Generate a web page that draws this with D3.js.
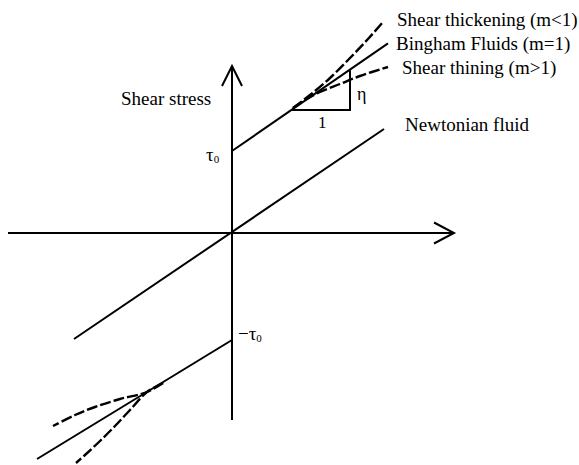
<!DOCTYPE html>
<html>
<head>
<meta charset="utf-8">
<script src="https://cdn.jsdelivr.net/npm/d3@7"></script>
<style>
  html, body { margin: 0; padding: 0; background: #fff; }
  svg { display: block; }
  text { font-family: "Liberation Serif", "Times New Roman", serif; fill: #000; }
</style>
</head>
<body>
<script>
// ---- Data (shear rate, shear stress) in schematic units ----
const xExtent = [-5.6, 5.55];          // shear-rate axis extent
const yExtent = [-4.675, 4.175];       // shear-stress axis extent
const tau0 = 2.05;                     // upper yield stress intercept
const negTau0 = -2.675;                // lower yield stress intercept

const binghamUpper = [[0, tau0], [3.9, 4.74]];
const binghamLower = [[0, negTau0], [-4.875, -5.65]];
const newtonian = [[-3.95, -2.65], [3.8, 2.6]];

const thickeningUpper = [[1.525, 3.125], [1.95, 3.45], [2.45, 3.875], [2.95, 4.375], [3.4, 4.85], [3.775, 5.275]];
const thinningUpper = [[1.525, 3.125], [1.825, 3.325], [2.2, 3.525], [2.7, 3.725], [3.2, 3.925], [3.9, 4.15]];
const flatterLower = [[-1.725, -3.75], [-2.125, -3.975], [-2.8, -4.15], [-3.425, -4.35], [-3.925, -4.55], [-4.475, -4.825]];
const steeperLower = [[-1.725, -3.75], [-2.125, -3.975], [-2.55, -4.425], [-2.925, -4.825], [-3.3, -5.2], [-3.675, -5.55], [-3.9, -5.75]];

const slopeTriangle = [[1.5, 3.075], [2.95, 3.075], [2.95, 4.07]];

const seriesLabels = ["Shear thickening (m<1)", "Bingham Fluids (m=1)", "Shear thining (m>1)", "Newtonian fluid"];
const axisLabel = "Shear stress";

// ---- Drawing ----
const W = 579, H = 465;
const svg = d3.select("body").append("svg").attr("width", W).attr("height", H);
svg.append("rect").attr("width", W).attr("height", H).attr("fill", "#fff");

const x = d3.scaleLinear().domain(xExtent).range([8, 454]);
const y = d3.scaleLinear().domain(yExtent).range([420, 66]);

const line = d3.line().x(d => x(d[0])).y(d => y(d[1]));
const curve = d3.line().x(d => x(d[0])).y(d => y(d[1])).curve(d3.curveCatmullRom);

const solid = (data) => svg.append("path").attr("d", line(data))
  .attr("fill", "none").attr("stroke", "#000").attr("stroke-width", 2);
const dashed = (data) => svg.append("path").attr("d", curve(data))
  .attr("fill", "none").attr("stroke", "#000").attr("stroke-width", 2.4)
  .attr("stroke-dasharray", "11,3");

// axes
solid([[xExtent[0], 0], [xExtent[1], 0]]);
solid([[0, yExtent[0]], [0, yExtent[1]]]);
// arrow heads
const xt = [x(xExtent[1]), y(0)];
svg.append("path").attr("d", `M${xt[0]-20},${xt[1]-10.5}L${xt[0]},${xt[1]}L${xt[0]-20},${xt[1]+10.5}`)
  .attr("fill", "none").attr("stroke", "#000").attr("stroke-width", 2);
const yt = [x(0), y(yExtent[1])];
svg.append("path").attr("d", `M${yt[0]-10},${yt[1]+20}L${yt[0]},${yt[1]}L${yt[0]+10},${yt[1]+20}`)
  .attr("fill", "none").attr("stroke", "#000").attr("stroke-width", 2);

// lines
solid(binghamUpper);
solid(binghamLower);
solid(newtonian);
solid(slopeTriangle);

dashed(thickeningUpper);
dashed(thinningUpper);
dashed(flatterLower);
dashed(steeperLower);

// labels
const fs = 19;
const lab = (tx, px, py, size) => svg.append("text").attr("x", px).attr("y", py)
  .attr("font-size", size || fs).text(tx);
lab(seriesLabels[0], 397, 26);
lab(seriesLabels[1], 396, 50);
lab(seriesLabels[2], 402, 74);
lab(seriesLabels[3], 405, 131);
lab(axisLabel, 121, 105);

// tau0 labels
const t1 = svg.append("text").attr("x", 206).attr("y", 161).attr("font-size", 19);
t1.append("tspan").text("τ");
t1.append("tspan").attr("font-size", 11).attr("dy", 2).text("0");
const t2 = svg.append("text").attr("x", 238).attr("y", 340).attr("font-size", 19);
t2.append("tspan").text("−τ");
t2.append("tspan").attr("font-size", 11).attr("dy", 2).text("0");

lab("η", 357, 100, 18);
lab("1", 318, 128, 17);
</script>
</body>
</html>
